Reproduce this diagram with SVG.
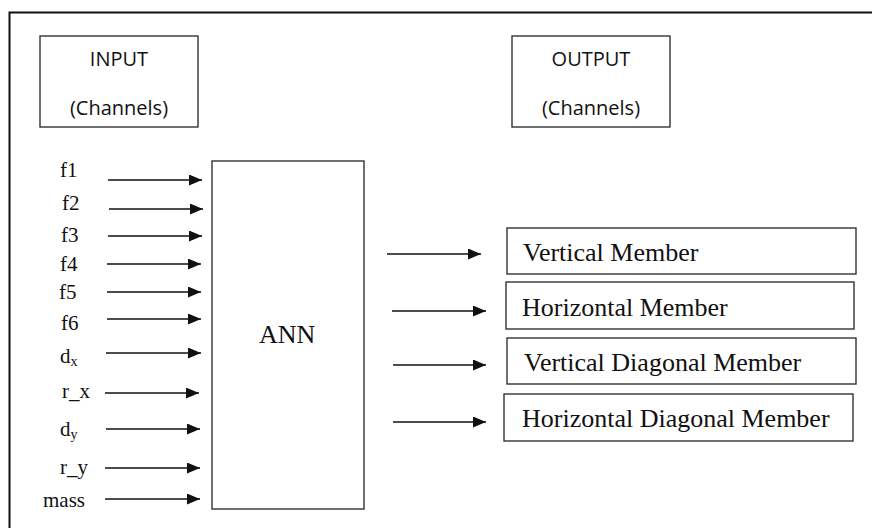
<svg xmlns="http://www.w3.org/2000/svg" width="872" height="528" viewBox="0 0 872 528">
<style>
.box{fill:#fff;stroke:#333;stroke-width:1.4}
.sans{font-family:"Open Sans","Liberation Sans",sans-serif;font-size:20px;fill:#111;text-anchor:middle}
.lbl{font-family:"Liberation Serif","Times New Roman",serif;font-size:21px;fill:#111}
.out{font-family:"Liberation Serif","Times New Roman",serif;font-size:26px;fill:#111}
.arr{stroke:#111;stroke-width:1.5;fill:none;marker-end:url(#ah)}
</style>
<defs>
<marker id="ah" markerUnits="userSpaceOnUse" markerWidth="13" markerHeight="11" refX="13" refY="5.5" orient="auto">
<path d="M0,0 L13,5.5 L0,11 z" fill="#111"/>
</marker>
</defs>
<rect width="872" height="528" fill="#fff"/>
<path d="M9.5,528 V12.5 H872" fill="none" stroke="#111" stroke-width="2"/>

<g id="input">
<rect class="box" x="40" y="36" width="158" height="91"/>
<text class="sans" x="119" y="66">INPUT</text>
<text class="sans" x="119" y="115">(Channels)</text>
</g>
<g id="output">
<rect class="box" x="512" y="36" width="158" height="91"/>
<text class="sans" x="591" y="66">OUTPUT</text>
<text class="sans" x="591" y="115">(Channels)</text>
</g>
<g id="ann">
<rect class="box" x="212" y="161" width="152" height="348"/>
<text class="out" x="259" y="343">ANN</text>
</g>
<g id="labels">
<text class="lbl" x="60" y="177">f1</text>
<text class="lbl" x="62" y="210">f2</text>
<text class="lbl" x="61" y="242">f3</text>
<text class="lbl" x="60" y="271">f4</text>
<text class="lbl" x="59" y="299">f5</text>
<text class="lbl" x="61" y="330">f6</text>
<text class="lbl" x="60" y="363">d<tspan font-size="14" dy="3">x</tspan></text>
<text class="lbl" x="62" y="398">r_x</text>
<text class="lbl" x="60" y="436">d<tspan font-size="14" dy="3">y</tspan></text>
<text class="lbl" x="60" y="474">r_y</text>
<text class="lbl" x="43" y="507">mass</text>
</g>
<g id="member-vertical">
<rect class="box" x="507" y="228" width="349" height="46"/>
<text class="out" x="523" y="261">Vertical Member</text>
</g>
<g id="member-horizontal">
<rect class="box" x="506" y="282" width="348" height="47"/>
<text class="out" x="522" y="316">Horizontal Member</text>
</g>
<g id="member-vertical-diagonal">
<rect class="box" x="507" y="338" width="349" height="46"/>
<text class="out" x="524" y="371">Vertical Diagonal Member</text>
</g>
<g id="member-horizontal-diagonal">
<rect class="box" x="504" y="394" width="349" height="47"/>
<text class="out" x="522" y="427">Horizontal Diagonal Member</text>
</g>
<g id="connectors">
<line class="arr" x1="108" y1="180" x2="202" y2="180"/>
<line class="arr" x1="109" y1="209" x2="203" y2="209"/>
<line class="arr" x1="108" y1="236" x2="202" y2="236"/>
<line class="arr" x1="107" y1="264" x2="201" y2="264"/>
<line class="arr" x1="107" y1="292" x2="201" y2="292"/>
<line class="arr" x1="107" y1="319" x2="201" y2="319"/>
<line class="arr" x1="106" y1="353" x2="201" y2="353"/>
<line class="arr" x1="105" y1="393" x2="199" y2="393"/>
<line class="arr" x1="106" y1="429" x2="200" y2="429"/>
<line class="arr" x1="105" y1="468" x2="200" y2="468"/>
<line class="arr" x1="105" y1="499" x2="200" y2="499"/>
<line class="arr" x1="387" y1="254" x2="481" y2="254"/>
<line class="arr" x1="392" y1="311" x2="486" y2="311"/>
<line class="arr" x1="393" y1="365" x2="486" y2="365"/>
<line class="arr" x1="393" y1="422" x2="486" y2="422"/>
</g>
</svg>
